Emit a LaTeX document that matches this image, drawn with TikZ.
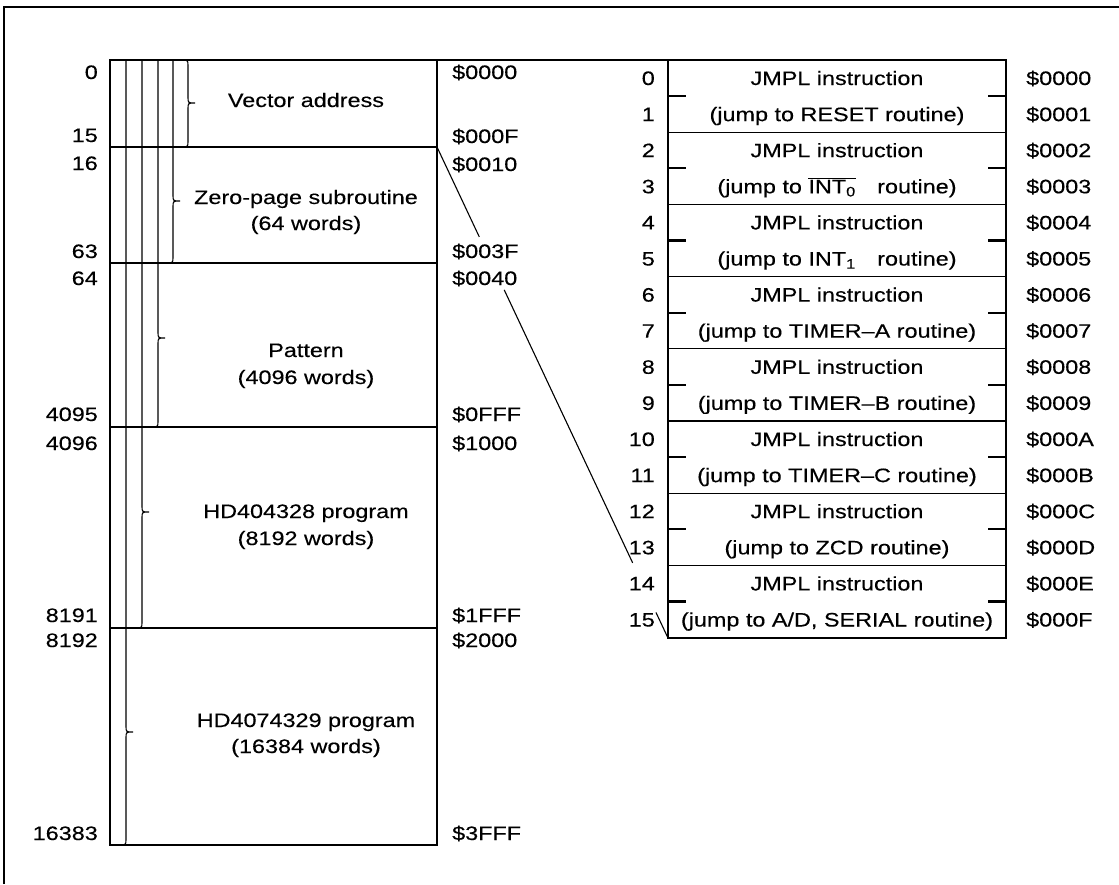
\documentclass[tikz,border=0pt]{standalone}
\usepackage{fontspec}
\setmainfont[FakeStretch=1.2,FakeBold=0.3]{Liberation Sans}
\usepackage{tikz}
\usetikzlibrary{calc,positioning}
\newcommand{\barsig}[1]{$\overline{\hbox{#1}}$}
% bracket of a rom area: x, top, tip, bottom
\newcommand{\romspan}[4]{
\draw[sep] (#1,#2) -- (#1,#3-6) .. controls (#1,#3) .. (#1+7,#3) .. controls (#1,#3) .. (#1,#3+6) -- (#1,#4-6) .. controls (#1,#4) .. (#1-7,#4);
}

\begin{document}
\begin{tikzpicture}[x=1pt,y=-1pt]
\tikzstyle{lbl}=[inner sep=0pt, text height=14pt, text depth=0pt, font=\fontsize{19.5}{23}\selectfont]
\tikzstyle{box}=[line width=2.6pt]
\tikzstyle{sep}=[line width=1.1pt]

\useasboundingbox (0,0) rectangle (1119,884);

% frame
\draw[line width=1.4pt] (4,884) -- (4,7) -- (1119,7);

\coordinate (romNE) at (437,60);
\coordinate (romZP) at (437,147);
\coordinate (vecNW) at (668,60);
\coordinate (vecSW) at (668,638);

% rom map
\draw[box] (110,60) rectangle (437,845);
\draw[sep] (110,147) -- (437,147);
\draw[sep] (110,263) -- (437,263);
\draw[sep] (110,427) -- (437,427);
\draw[sep] (110,628) -- (437,628);

\draw[sep] (181,60) .. controls (188,60) .. (188,66) -- (188,97) .. controls (188,103) .. (195,103) .. controls (188,103) .. (188,109) -- (188,141) .. controls (188,147) .. (181,147);
\romspan{173}{60}{201}{263}
\romspan{158}{60}{338}{427}
\romspan{142}{60}{512}{628}
\romspan{126}{60}{732}{845}

\node[lbl,anchor=east] (n0) at (98,72) {0};
\node[lbl,anchor=east] (n15) at (98,135) {15};
\node[lbl,anchor=east] (n16) at (98,163) {16};
\node[lbl,anchor=east] (n63) at (98,251) {63};
\node[lbl,anchor=east] (n64) at (98,278) {64};
\node[lbl,anchor=east] (n4095) at (98,414) {4095};
\node[lbl,anchor=east] (n4096) at (98,443) {4096};
\node[lbl,anchor=east] (n8191) at (98,615) {8191};
\node[lbl,anchor=east] (n8192) at (98,640) {8192};
\node[lbl,anchor=east] (n16383) at (98,833) {16383};

\node[lbl,anchor=west] (a0000) at (452,72) {\$0000};
\node[lbl,anchor=west] (a000F) at (452,136) {\$000F};
\node[lbl,anchor=west] (a0010) at (452,164) {\$0010};
\node[lbl,anchor=west] (a003F) at (452,251) {\$003F};
\node[lbl,anchor=west] (a0040) at (452,278) {\$0040};
\node[lbl,anchor=west] (a0FFF) at (452,414) {\$0FFF};
\node[lbl,anchor=west] (a1000) at (452,443) {\$1000};
\node[lbl,anchor=west] (a1FFF) at (452,615) {\$1FFF};
\node[lbl,anchor=west] (a2000) at (452,640) {\$2000};
\node[lbl,anchor=west] (a3FFF) at (452,833) {\$3FFF};

\node[lbl] (vec) at (306,100) {Vector address};
\node[lbl] (zp) at (306,197) {Zero-page subroutine};
\node[lbl] (zpw) at (306,223) {(64 words)};
\node[lbl] (pat) at (306,350) {Pattern};
\node[lbl] (patw) at (306,377) {(4096 words)};
\node[lbl] (prga) at (306,511) {HD404328 program};
\node[lbl] (prgaw) at (306,538) {(8192 words)};
\node[lbl] (prgb) at (306,720) {HD4074329 program};
\node[lbl] (prgbw) at (306,746) {(16384 words)};

% vector table
\draw[box] (vecNW) rectangle (1006,638);
\foreach \j in {1,...,7}
  \draw[sep] (668,60+72.2*\j) -- (1006,60+72.2*\j);
\foreach \j in {0,...,7}
{
  \draw[line width=2.2pt] (668,96.1+72.2*\j) -- (686,96.1+72.2*\j);
  \draw[line width=2.2pt] (988,96.1+72.2*\j) -- (1006,96.1+72.2*\j);
  \node[lbl] (jmp\j) at (837,78+72.2*\j) {JMPL instruction};
}
\foreach \t [count=\j from 0] in {{(jump to RESET routine)},{(jump to \barsig{INT\textsubscript{0}}\hspace{1.1em}routine)},{(jump to INT\textsubscript{1}\hspace{1.1em}routine)},{(jump to TIMER--A routine)},{(jump to TIMER--B routine)},{(jump to TIMER--C routine)},{(jump to ZCD routine)},{(jump to A/D, SERIAL routine)}}
  \node[lbl] (dst\j) at (837,114.1+72.2*\j) {\t};

\foreach \h [count=\k from 0] in {0,1,2,3,4,5,6,7,8,9,A,B,C,D,E,F}
{
  \node[lbl,anchor=east] (r\k) at (655,78+36.1*\k) {\k};
  \node[lbl,anchor=west] (v\k) at (1026,78+36.1*\k) {\$000\h};
}

% lead lines
\draw[line width=2pt] (romNE) -- (vecNW);
\draw[sep] (romZP) -- ($(romZP)!0.183!(vecSW)$);
\draw[sep] ($(romZP)!0.291!(vecSW)$) -- ($(romZP)!0.847!(vecSW)$);
\draw[sep] ($(romZP)!0.948!(vecSW)$) -- (vecSW);
\end{tikzpicture}
\end{document}
